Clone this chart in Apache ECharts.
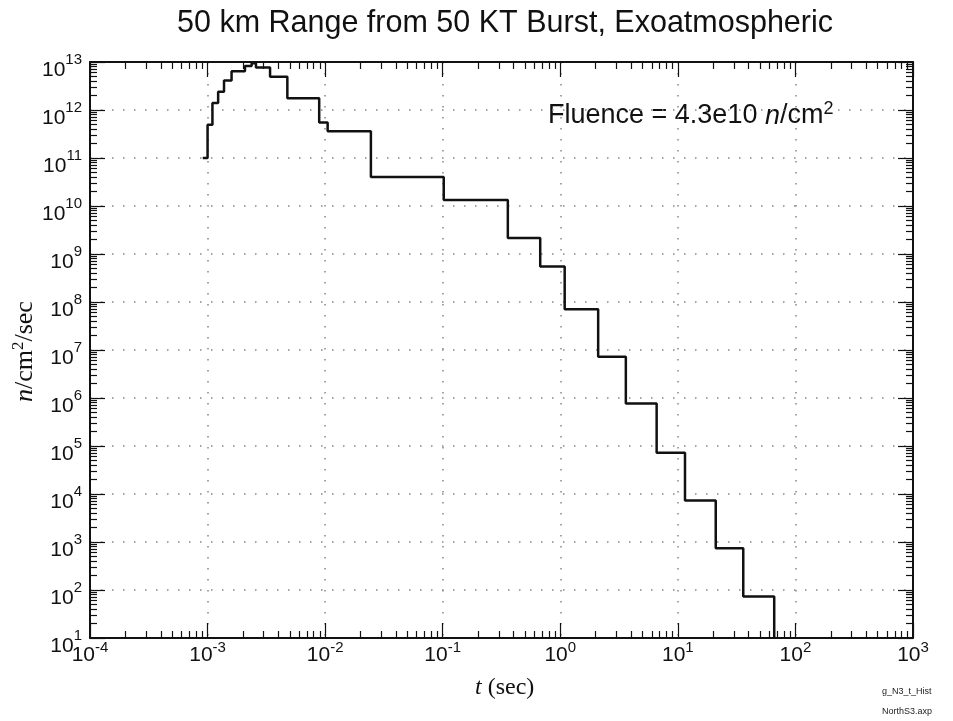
<!DOCTYPE html>
<html lang="en">
<head>
    <meta charset="UTF-8">
    <title>50 km Range from 50 KT Burst, Exoatmospheric</title>
    <style>
        body { margin: 0; background: #fff; }
        #chart { width: 953px; height: 721px; }
    </style>
    <script src="https://cdn.jsdelivr.net/npm/echarts@6/dist/echarts.min.js"></script>
</head>
<body>
<div id="chart"></div>
<script>
    // Histogram bin edges (sec) and flux in each bin (n/cm2/sec)
    var binEdges = [0.91e-3, 1.0e-3, 1.1e-3, 1.23e-3, 1.38e-3, 1.6e-3, 2.08e-3, 2.37e-3, 2.58e-3,
        3.4e-3, 4.77e-3, 8.9e-3, 1.05e-2, 2.45e-2, 0.102, 0.358, 0.675, 1.09, 2.1, 3.61, 6.6,
        11.5, 21, 36, 66];
    var binFlux = [1e11, 4.9e11, 1.4e12, 2.4e12, 4.1e12, 6.4e12, 8.3e12, 9.4e12, 7.7e12,
        4.9e12, 1.75e12, 5.5e11, 3.6e11, 4e10, 1.33e10, 2.15e9, 5.5e8, 7.1e7, 7.2e6, 7.7e5,
        7.2e4, 7.3e3, 7.4e2, 73];
    var xMin = 1e-4, xMax = 1e3;
    var yMin = 1e1, yMax = 1e13;

    var serifFont = "'Liberation Serif', 'Times New Roman', serif";
    var sansFont = "'Liberation Sans', Arial, sans-serif";

    // step histogram points
    var stepData = binFlux.map(function (v, i) { return [binEdges[i], v]; });
    stepData.push([binEdges[binEdges.length - 1], yMin]);

    function decades(lo, hi) {
        var out = [];
        for (var k = Math.round(Math.log10(lo)); k <= Math.round(Math.log10(hi)); k++) out.push(Math.pow(10, k));
        return out;
    }
    function minors(lo, hi) {
        var out = [];
        for (var k = Math.round(Math.log10(lo)); k < Math.round(Math.log10(hi)); k++) {
            for (var m = 2; m <= 9; m++) out.push(m * Math.pow(10, k));
        }
        return out;
    }

    // superscript via padding (tokens are middle aligned)
    var xRich = {
        b: { fontSize: 21, lineHeight: 21, fontFamily: sansFont, color: '#111' },
        s: { fontSize: 15, lineHeight: 15, padding: [0, 0, 16, 0], fontFamily: sansFont, color: '#111' }
    };
    var yRich = {
        b: { fontSize: 21, lineHeight: 21, padding: [16, 0, 0, 0], fontFamily: sansFont, color: '#111' },
        s: { fontSize: 15, lineHeight: 15, padding: [0, 0, 4, 0], fontFamily: sansFont, color: '#111' }
    };
    function powLabel(v) {
        return '{b|10}{s|' + Math.round(Math.log10(v)) + '}';
    }

    function overlayAxis(pos, lo, hi, vals, len, line) {
        return {
            type: 'log', logBase: 10, gridIndex: 0, position: pos, min: lo, max: hi,
            axisLine: line ? frameLine : { show: false },
            axisLabel: { show: false },
            splitLine: { show: false },
            axisTick: { show: true, inside: true, length: len, customValues: vals,
                lineStyle: { color: '#111', width: 1.2 } }
        };
    }
    var gridLine = { show: true, lineStyle: { color: '#888', width: 1.5, type: [1.5, 9.5] } };
    var frameLine = { show: true, onZero: false, lineStyle: { color: '#111', width: 2 } };

    var chart = echarts.init(document.getElementById('chart'));
    chart.setOption({
        animation: false,
        title: {
            text: '50 km Range from 50 KT Burst, Exoatmospheric',
            left: 500, top: 3, textAlign: 'center',
            textStyle: { fontFamily: sansFont, fontSize: 30.5, fontWeight: 'normal', color: '#111' }
        },
        grid: { left: 90, right: 40, top: 62, bottom: 83 },
        xAxis: [
            {
                type: 'log', logBase: 10, min: xMin, max: xMax, position: 'bottom',
                axisLine: frameLine,
                axisTick: { show: true, inside: true, length: 15, customValues: decades(xMin, xMax),
                    lineStyle: { color: '#111', width: 1.2 } },
                axisLabel: { formatter: powLabel, rich: xRich, margin: 7, customValues: decades(xMin, xMax) },
                splitLine: gridLine
            },
            overlayAxis('bottom', xMin, xMax, minors(xMin, xMax), 7),
            overlayAxis('top', xMin, xMax, decades(xMin, xMax), 15, true),
            overlayAxis('top', xMin, xMax, minors(xMin, xMax), 7)
        ],
        yAxis: [
            {
                type: 'log', logBase: 10, min: yMin, max: yMax, position: 'left',
                axisLine: frameLine,
                axisTick: { show: true, inside: true, length: 15, customValues: decades(yMin, yMax),
                    lineStyle: { color: '#111', width: 1.2 } },
                axisLabel: { formatter: powLabel, rich: yRich, margin: 8, customValues: decades(yMin, yMax) },
                splitLine: gridLine
            },
            overlayAxis('left', yMin, yMax, minors(yMin, yMax), 7),
            overlayAxis('right', yMin, yMax, decades(yMin, yMax), 15, true),
            overlayAxis('right', yMin, yMax, minors(yMin, yMax), 7)
        ],
        series: [{
            type: 'line',
            xAxisIndex: 0, yAxisIndex: 0,
            step: 'end',
            symbol: 'none',
            data: stepData,
            lineStyle: { color: '#111', width: 2.5 },
            clip: true
        }],
        graphic: [
            {
                type: 'text', left: 548, top: 100,
                style: {
                    text: 'Fluence = 4.3e10 {i|n}/cm{s|2}',
                    font: '27px ' + sansFont, fill: '#111',
                    rich: {
                        i: { fontStyle: 'italic', fontSize: 27, fontFamily: sansFont },
                        s: { fontSize: 18, lineHeight: 18, padding: [0, 0, 14, 0], fontFamily: sansFont }
                    }
                }
            },
            {
                type: 'text', left: 475, top: 676,
                style: {
                    text: '{i|t} (sec)',
                    font: '24px ' + serifFont, fill: '#111',
                    rich: { i: { fontStyle: 'italic', fontSize: 24, fontFamily: serifFont } }
                }
            },
            {
                type: 'text', x: 12, y: 402, rotation: Math.PI / 2,
                style: {
                    text: '{i|n}/cm{s|2}/sec',
                    font: '26px ' + serifFont, fill: '#111',
                    rich: {
                        i: { fontStyle: 'italic', fontSize: 26, fontFamily: serifFont },
                        s: { fontSize: 17, lineHeight: 17, padding: [0, 0, 12, 0], fontFamily: serifFont }
                    }
                }
            },
            {
                type: 'text', left: 882, top: 687,
                style: { text: 'g_N3_t_Hist', font: '9px ' + sansFont, fill: '#222' }
            },
            {
                type: 'text', left: 882, top: 707,
                style: { text: 'NorthS3.axp', font: '9px ' + sansFont, fill: '#222' }
            }
        ]
    });
</script>
</body>
</html>
